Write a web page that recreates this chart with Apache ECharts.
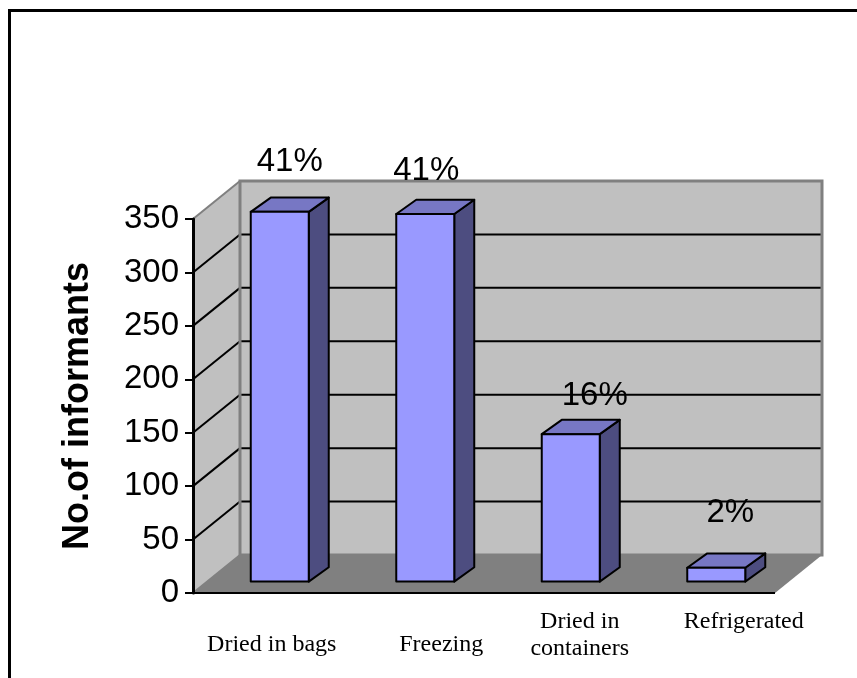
<!DOCTYPE html>
<html>
<head>
<meta charset="utf-8">
<script src="https://cdn.jsdelivr.net/npm/echarts@6/dist/echarts.min.js"></script>
<style>
  html, body { margin: 0; padding: 0; background: #ffffff; }
  #chart { width: 857px; height: 678px; }
</style>
</head>
<body>
<div id="chart"></div>
<script>
// Storage methods reported by informants
const categories = ['Dried in bags', 'Freezing', 'Dried in\ncontainers', 'Refrigerated'];
const informants = [346, 344, 138, 13];
const shareLabels = ['41%', '41%', '16%', '2%'];
const yTicks = [0, 50, 100, 150, 200, 250, 300, 350];

// 3-D box geometry (pixels)
const WALL_DX = 47, WALL_DY = -38;          // depth of the walls and floor
const BAR_FRONT_DX = 14, BAR_FRONT_DY = -11.4; // bar front face sits a little behind the floor edge
const BAR_SIDE_DX = 20, BAR_SIDE_DY = -14.3;   // bar depth
const BAR_HALF_W = 29;

// hand-placed label offsets
const shareNudge = [[0, -4], [-9, 3], [14, 8], [4, -9]];
const catLabelNudge = [[6, 52], [30, 52], [23, 42], [41.5, 28.5]];

const SANS = '"Liberation Sans", Arial, sans-serif';
const SERIF = '"Liberation Serif", "Times New Roman", serif';

const chart = echarts.init(document.getElementById('chart'), null, { renderer: 'canvas' });

function renderFrame(params, api) {
  const cs = params.coordSys;
  const L = cs.x, R = cs.x + cs.width, T = cs.y, B = cs.y + cs.height;
  const children = [];
  const poly = (pts, style) => ({ type: 'polygon', shape: { points: pts }, style });
  const line = (x1, y1, x2, y2, stroke, w) => ({
    type: 'line', shape: { x1, y1, x2, y2 }, style: { stroke, lineWidth: w }
  });

  // back wall, side wall, floor
  children.push(poly([[L + WALL_DX, T + WALL_DY], [R + WALL_DX, T + WALL_DY],
                      [R + WALL_DX, B + WALL_DY], [L + WALL_DX, B + WALL_DY]],
                     { fill: '#C0C0C0' }));
  children.push(poly([[L, T], [L + WALL_DX, T + WALL_DY], [L + WALL_DX, B + WALL_DY], [L, B]],
                     { fill: '#C0C0C0' }));
  children.push(poly([[L, B], [R, B], [R + WALL_DX, B + WALL_DY], [L + WALL_DX, B + WALL_DY]],
                     { fill: '#808080' }));

  // gridlines wrapping side wall and back wall
  yTicks.forEach((v, k) => {
    const y = api.coord([0, v])[1];
    if (k === 0 || k === yTicks.length - 1) {
      children.push(line(L, y, L + WALL_DX, y + WALL_DY, '#808080', 2));
      return;
    }
    children.push(line(L, y, L + WALL_DX, y + WALL_DY, '#000000', 2));
    children.push(line(L + WALL_DX, y + WALL_DY, R + WALL_DX, y + WALL_DY, '#000000', 2));
  });

  // back wall outline
  children.push(poly([[L + WALL_DX, T + WALL_DY], [R + WALL_DX, T + WALL_DY],
                      [R + WALL_DX, B + WALL_DY], [L + WALL_DX, B + WALL_DY]],
                     { fill: null, stroke: '#808080', lineWidth: 3 }));
  // front edge of the floor
  children.push(line(L, B, R, B, '#000000', 2));
  return { type: 'group', children };
}

function renderBar(params, api) {
  const i = api.value(0);
  const v = api.value(1);
  const base = api.coord([i, 0]);
  const peak = api.coord([i, v]);
  const cx = base[0] + BAR_FRONT_DX;
  const l = cx - BAR_HALF_W, r = cx + BAR_HALF_W;
  const b = base[1] + BAR_FRONT_DY, t = peak[1] + BAR_FRONT_DY;
  const sx = BAR_SIDE_DX, sy = BAR_SIDE_DY;
  const edge = { stroke: '#000000', lineWidth: 2, lineJoin: 'round' };

  const children = [
    { type: 'polygon', shape: { points: [[r, t], [r + sx, t + sy], [r + sx, b + sy], [r, b]] },
      style: Object.assign({ fill: '#4D4D80' }, edge) },
    { type: 'polygon', shape: { points: [[l, t], [l + sx, t + sy], [r + sx, t + sy], [r, t]] },
      style: Object.assign({ fill: '#7777C4' }, edge) },
    { type: 'polygon', shape: { points: [[l, t], [r, t], [r, b], [l, b]] },
      style: Object.assign({ fill: '#9999FF' }, edge) },
    { type: 'text',
      style: { text: shareLabels[i], x: cx + sx / 2 + shareNudge[i][0], y: t + sy - 32 + shareNudge[i][1],
               align: 'center', verticalAlign: 'middle', font: '33px ' + SANS, fill: '#000000' } },
    { type: 'text',
      style: { text: categories[i], x: base[0] + catLabelNudge[i][0], y: base[1] + catLabelNudge[i][1],
               align: 'center', verticalAlign: 'middle', font: '24px ' + SERIF, lineHeight: 27.4,
               fill: '#000000' } }
  ];
  return { type: 'group', children };
}

chart.setOption({
  animation: false,
  backgroundColor: '#ffffff',
  grid: { left: 193, right: 82, top: 219, bottom: 85 },
  xAxis: {
    type: 'category',
    data: categories,
    axisLine: { show: false },
    axisTick: { show: false },
    axisLabel: { show: false },
    splitLine: { show: false }
  },
  yAxis: {
    type: 'value',
    z: 10,
    min: yTicks[0],
    max: yTicks[yTicks.length - 1],
    interval: yTicks[1] - yTicks[0],
    name: 'No.of informants',
    nameLocation: 'middle',
    nameGap: 97,
    nameTextStyle: { fontFamily: SANS, fontSize: 36, fontWeight: 'bold', color: '#000000' },
    axisLine: { show: true, lineStyle: { color: '#000000', width: 3 } },
    axisTick: { show: true, length: 8, lineStyle: { color: '#000000', width: 2 } },
    axisLabel: { margin: 14, fontFamily: SANS, fontSize: 33, color: '#000000' },
    splitLine: { show: false }
  },
  graphic: [{
    type: 'rect',
    z: 100,
    shape: { x: 9.5, y: 10.5, width: 1000, height: 1000 },
    style: { fill: null, stroke: '#000000', lineWidth: 3 }
  }],
  series: [
    {
      type: 'custom',
      name: 'frame',
      z: 1,
      silent: true,
      data: [[0, 0]],
      renderItem: renderFrame
    },
    {
      type: 'custom',
      name: 'informants',
      z: 5,
      data: informants.map((v, i) => [i, v]),
      renderItem: renderBar
    }
  ]
});
</script>
</body>
</html>
